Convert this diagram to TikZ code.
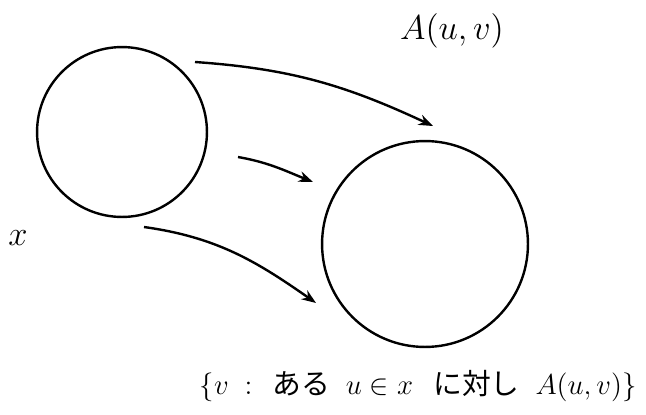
\documentclass[tikz,border=0pt]{standalone}
\usepackage{amsmath,amssymb}
\usepackage{fontspec}
\newfontfamily\jpfont{Noto Sans CJK JP}
\usepackage{tikz}
\usetikzlibrary{positioning,arrows.meta}

\begin{document}
\begin{tikzpicture}[
  x=0.4167pt, y=-0.4167pt,
  set/.style={draw, circle, line width=1pt, inner sep=0pt},
  lbl/.style={font=\fontsize{15.5}{18}\selectfont, inner sep=0pt},
  arr/.style={-{Stealth[length=6pt, width=4.5pt]}, line width=1pt}]
\useasboundingbox (0,0) rectangle (646,414);
\node[set, minimum size=70.8pt] (dom) at (122,132) {};
\node[set, minimum size=85.8pt] (img) at (425,244) {};
\node[lbl] (rel) at (452,31) {$A(u,v)$};
\node[lbl] (xlab) at (18,238) {$x$};
\node[inner sep=0pt, font=\fontsize{12}{15}\selectfont] (set) at (418,386)
  {$\{v$\hspace{0.55em}$:$\hspace{0.7em}{\jpfont ある}\hspace{0.55em}$u \in x$\hspace{0.7em}{\jpfont に対し}\hspace{0.55em}$A(u,v)\}$};
% arrow ends
\coordinate (a1) at (195,62);  \coordinate (b1) at (433,126);
\coordinate (a2) at (238,157); \coordinate (b2) at (313,182);
\coordinate (a3) at (144,227); \coordinate (b3) at (316,303);
\draw[arr] (a1) to[out=-4, in=155] (b1);
\draw[arr] (a2) to[out=-10, in=158] (b2);
\draw[arr] (a3) to[out=-8, in=145] (b3);
\end{tikzpicture}
\end{document}
